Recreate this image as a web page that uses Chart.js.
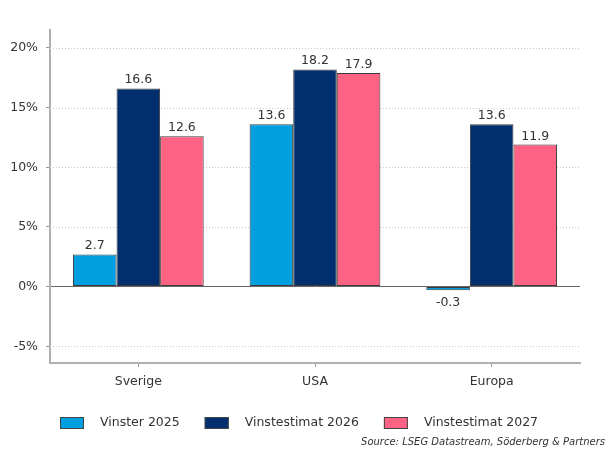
<!DOCTYPE html>
<html>
<head>
<meta charset="utf-8">
<script src="https://cdn.jsdelivr.net/npm/chart.js@4"></script>
<style>
  html, body { margin: 0; padding: 0; background: #fff; }
  #wrap { width: 609px; height: 452px; }
</style>
</head>
<body>
<div id="wrap"><canvas id="chart"></canvas></div>
<script>
// Chart data
const categories = ["Sverige", "USA", "Europa"];
const vinster2025 = [2.7, 13.6, -0.3];
const estimat2026 = [16.6, 18.2, 13.6];
const estimat2027 = [12.6, 17.9, 11.9];
const yTicks = [-5, 0, 5, 10, 15, 20];
const sourceText = "Source: LSEG Datastream, Söderberg & Partners";

const FONT = "'DejaVu Sans', Verdana, sans-serif";

// Draws the value above (or below, if negative) each bar
const barLabels = {
    id: "barLabels",
    afterDatasetsDraw(chart) {
        const ctx = chart.ctx;
        ctx.save();
        ctx.font = "12.5px " + FONT;
        ctx.fillStyle = "#333";
        ctx.textAlign = "center";
        chart.data.datasets.forEach((ds, i) => {
            chart.getDatasetMeta(i).data.forEach((bar, j) => {
                const v = ds.data[j];
                if (v < 0) {
                    ctx.textBaseline = "top";
                    ctx.fillText(v.toFixed(1), bar.x, bar.y + 6);
                } else {
                    ctx.textBaseline = "bottom";
                    ctx.fillText(v.toFixed(1), bar.x, bar.y - 2);
                }
            });
        });
        ctx.restore();
    }
};

// Legend row + source line at the bottom
const bottomLegend = {
    id: "bottomLegend",
    afterDraw(chart) {
        const ctx = chart.ctx;
        ctx.save();
        ctx.font = "12.5px " + FONT;
        ctx.textBaseline = "middle";
        ctx.textAlign = "left";
        let x = 60;
        const y = 423;
        chart.data.datasets.forEach(ds => {
            ctx.fillStyle = ds.backgroundColor;
            ctx.fillRect(x, y - 6, 24, 12);
            ctx.strokeStyle = "#444";
            ctx.lineWidth = 1;
            ctx.strokeRect(x + 0.5, y - 5.5, 23, 11);
            ctx.fillStyle = "#333";
            ctx.fillText(ds.label, x + 40, y);
            x += 40 + ctx.measureText(ds.label).width + 25;
        });
        ctx.font = "italic 10px " + FONT;
        ctx.textAlign = "right";
        ctx.fillText(sourceText, 605, 442);
        ctx.restore();
    }
};

// Dotted grid lines (zero line is drawn solid by the y grid)
const dottedGrid = {
    id: "dottedGrid",
    beforeDatasetsDraw(chart) {
        const { ctx, chartArea, scales } = chart;
        ctx.save();
        ctx.strokeStyle = "#c8c8c8";
        ctx.lineWidth = 1;
        ctx.setLineDash([1, 2]);
        yTicks.filter(v => v !== 0).forEach(v => {
            const y = Math.round(scales.y.getPixelForValue(v)) + 0.5;
            ctx.beginPath();
            ctx.moveTo(chartArea.left, y);
            ctx.lineTo(chartArea.right, y);
            ctx.stroke();
        });
        ctx.restore();
    }
};

new Chart(document.getElementById("chart"), {
    type: "bar",
    data: {
        labels: categories,
        datasets: [
            { label: "Vinster 2025", data: vinster2025, backgroundColor: "#009FDF" },
            { label: "Vinstestimat 2026", data: estimat2026, backgroundColor: "#002E6F" },
            { label: "Vinstestimat 2027", data: estimat2027, backgroundColor: "#FF6384" }
        ]
    },
    options: {
        responsive: true,
        maintainAspectRatio: false,
        animation: false,
        devicePixelRatio: 1,
        layout: { padding: { top: 30, right: 29, left: 0, bottom: 56 } },
        datasets: {
            bar: {
                borderColor: "#3a3a3a",
                borderWidth: 1,
                borderSkipped: false,
                categoryPercentage: 0.74,
                barPercentage: 1.0
            }
        },
        scales: {
            x: {
                grid: { display: true, drawOnChartArea: false, drawTicks: true, tickLength: 4, tickColor: "#999", offset: false },
                border: { color: "#b0b0b0", width: 2 },
                ticks: { color: "#333", font: { size: 12.5, family: FONT }, padding: 7 }
            },
            y: {
                min: -6.4,
                max: 21.5,
                afterBuildTicks: axis => { axis.ticks = yTicks.map(v => ({ value: v })); },
                afterFit: axis => { axis.width = 50; },
                grid: {
                    color: ctx => ctx.tick && ctx.tick.value === 0 ? "#666" : "rgba(0,0,0,0)",
                    lineWidth: 1,
                    drawTicks: true,
                    tickLength: 4,
                    tickColor: "#999"
                },
                border: { color: "#b0b0b0", width: 2 },
                ticks: {
                    color: "#333",
                    font: { size: 12.5, family: FONT },
                    padding: 8,
                    callback: v => v + "%"
                }
            }
        },
        plugins: {
            legend: { display: false },
            tooltip: { enabled: false }
        }
    },
    plugins: [barLabels, bottomLegend, dottedGrid]
});
</script>
</body>
</html>
